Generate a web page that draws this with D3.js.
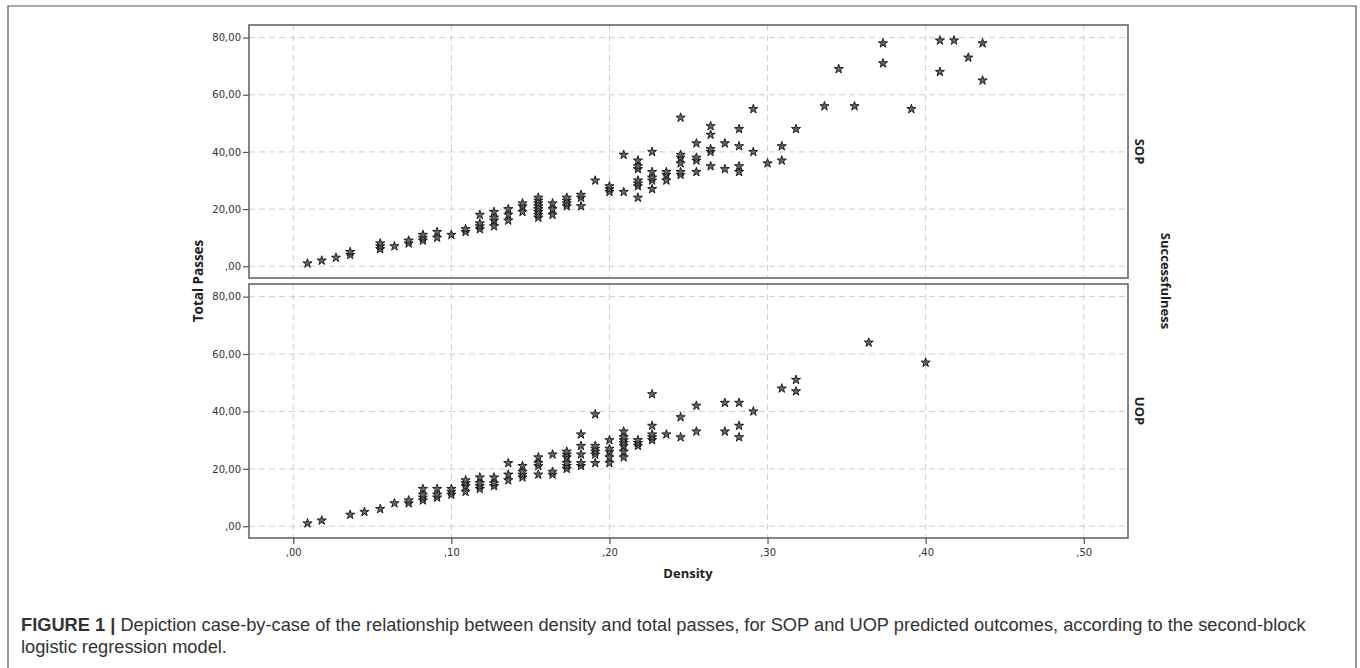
<!DOCTYPE html>
<html>
<head>
<meta charset="utf-8">
<script src="https://cdn.jsdelivr.net/npm/d3@7"></script>
<style>
  body { margin: 0; background: #fff; }
  svg { display: block; }
</style>
</head>
<body>
<div id="canvas"></div>
<script>
// density levels and total passes seen at each level, per predicted outcome
var sopDensity = [0.009, 0.018, 0.027, 0.036, 0.055, 0.064, 0.073, 0.082, 0.091, 0.100,
  0.109, 0.118, 0.127, 0.136, 0.145, 0.155, 0.164, 0.173, 0.182, 0.191,
  0.200, 0.209, 0.218, 0.227, 0.236, 0.245, 0.255, 0.264, 0.273, 0.282,
  0.291, 0.300, 0.309, 0.318, 0.336, 0.345, 0.355, 0.373, 0.391, 0.409,
  0.418, 0.427, 0.436];
var sopPasses = [[1], [2], [3], [4, 5], [6, 7, 8], [7], [8, 9], [9, 10, 11], [10, 12], [11],
  [12, 13], [13, 14, 15, 18], [14, 16, 17, 19], [16, 18, 20], [19, 21, 22],
  [17, 18, 19, 20, 21, 22, 23, 24], [18, 20, 22], [21, 22, 23, 24], [21, 24, 25], [30],
  [26, 27, 28], [26, 39], [24, 28, 29, 30, 34, 35, 37], [27, 30, 31, 33, 40], [30, 32, 33],
  [32, 33, 36, 38, 39, 52], [33, 37, 38, 43], [35, 40, 41, 46, 49], [34, 43], [33, 35, 42, 48],
  [40, 55], [36], [37, 42], [48], [56], [69], [56], [71, 78], [55], [68, 79],
  [79], [73], [65, 78]];

var uopDensity = [0.009, 0.018, 0.036, 0.045, 0.055, 0.064, 0.073, 0.082, 0.091, 0.100,
  0.109, 0.118, 0.127, 0.136, 0.145, 0.155, 0.164, 0.173, 0.182, 0.191,
  0.200, 0.209, 0.218, 0.227, 0.236, 0.245, 0.255, 0.273, 0.282, 0.291,
  0.309, 0.318, 0.364, 0.400];
var uopPasses = [[1], [2], [4], [5], [6], [8], [8, 9], [9, 10, 11, 13], [10, 11, 13], [11, 12, 13],
  [12, 14, 15, 16], [13, 14, 15, 17], [14, 15, 17], [16, 18, 22], [17, 18, 19, 21],
  [18, 21, 22, 24], [18, 19, 25], [20, 21, 22, 24, 25, 26], [21, 22, 25, 28, 32], [22, 25, 26, 27, 28, 39],
  [22, 24, 26, 27, 30], [24, 26, 28, 29, 30, 31, 33], [28, 29, 30], [30, 31, 32, 35, 46], [32],
  [31, 38], [33, 42], [33, 43], [31, 35, 43], [40],
  [48], [47, 51], [64], [57]];

var xTicks = [0, 0.1, 0.2, 0.3, 0.4, 0.5];
var yTicks = [0, 20, 40, 60, 80];
var panelNames = ["SOP", "UOP"];

var width = 1360, height = 668;
var svg = d3.select("#canvas").append("svg")
  .attr("width", width)
  .attr("height", height);

// outer figure frame
svg.append("path")
  .attr("d", "M8,700 L8,6 L1356,6 L1356,700")
  .attr("fill", "none")
  .attr("stroke", "#555")
  .attr("stroke-width", 1.2);

var x = d3.scaleLinear().domain([-0.028, 0.528]).range([249, 1128]);
var panels = [
  {name: panelNames[0], top: 25, bottom: 278, dens: sopDensity, passes: sopPasses},
  {name: panelNames[1], top: 284, bottom: 538, dens: uopDensity, passes: uopPasses}
];

var fmtY = (d) => d3.format(".2f")(d).replace(".", ",").replace(/^0,/, ",");
var fmtX = (d) => d3.format(".2f")(d).replace(/^0\./, ",");

var star = d3.symbol().type(d3.symbolStar).size(26);

panels.forEach((p, i) => {
  var y = d3.scaleLinear().domain([-4.1, 84.4]).range([p.bottom, p.top]);
  var g = svg.append("g");

  // grid
  g.selectAll(".vgrid").data(xTicks).enter().append("line")
    .attr("x1", (d) => x(d)).attr("x2", (d) => x(d))
    .attr("y1", p.top).attr("y2", p.bottom)
    .attr("stroke", "#cfcfcf").attr("stroke-dasharray", "6,4");
  g.selectAll(".hgrid").data(yTicks).enter().append("line")
    .attr("x1", x.range()[0]).attr("x2", x.range()[1])
    .attr("y1", (d) => y(d)).attr("y2", (d) => y(d))
    .attr("stroke", "#cfcfcf").attr("stroke-dasharray", "6,4");

  // left axis
  var leftAxis = d3.axisLeft(y).tickValues(yTicks).tickFormat(fmtY).tickSize(6).tickPadding(2);
  var ga = g.append("g")
    .attr("class", "left axis")
    .attr("transform", "translate(" + x.range()[0] + ",0)")
    .call(leftAxis);
  ga.select(".domain").remove();
  ga.selectAll("line").attr("stroke", "#555").attr("stroke-width", 1.2);
  ga.selectAll("text").attr("font-family", "DejaVu Sans").attr("font-size", "10px").attr("fill", "#333");

  // points
  var pts = [];
  p.dens.forEach((d, k) => {
    p.passes[k].forEach((v) => { pts.push({d: d, v: v}); });
  });
  g.selectAll(".pt").data(pts).enter().append("path")
    .attr("d", star)
    .attr("transform", (d) => "translate(" + x(d.d) + "," + y(d.v) + ")")
    .attr("fill", "#666")
    .attr("stroke", "#111")
    .attr("stroke-width", 0.9);

  // frame
  g.append("rect")
    .attr("x", x.range()[0]).attr("y", p.top)
    .attr("width", x.range()[1] - x.range()[0])
    .attr("height", p.bottom - p.top)
    .attr("fill", "none").attr("stroke", "#666").attr("stroke-width", 1.6);

  // panel label
  g.append("text")
    .attr("transform", "translate(1135," + (p.top + p.bottom) / 2 + ") rotate(90)")
    .attr("text-anchor", "middle")
    .attr("font-family", "Open Sans").attr("font-weight", "bold").attr("font-size", "13px")
    .attr("fill", "#222")
    .text(p.name);

  if (i == 1) {
    var bottomAxis = d3.axisBottom(x).tickValues(xTicks).tickFormat(fmtX).tickSize(6).tickPadding(5);
    var gb = g.append("g")
      .attr("class", "x axis")
      .attr("transform", "translate(0," + p.bottom + ")")
      .call(bottomAxis);
    gb.select(".domain").remove();
    gb.selectAll("line").attr("stroke", "#555").attr("stroke-width", 1.2);
    gb.selectAll("text").attr("font-family", "DejaVu Sans").attr("font-size", "10px").attr("fill", "#333");
  }
});

// axis titles
svg.append("text")
  .attr("x", 688).attr("y", 578)
  .attr("text-anchor", "middle")
  .attr("font-family", "Open Sans").attr("font-weight", "bold").attr("font-size", "13px")
  .attr("fill", "#222")
  .text("Density");

svg.append("text")
  .attr("transform", "translate(203,281) rotate(-90)")
  .attr("text-anchor", "middle")
  .attr("font-family", "Open Sans").attr("font-weight", "bold").attr("font-size", "13.5px")
  .attr("fill", "#222")
  .text("Total Passes");

svg.append("text")
  .attr("transform", "translate(1161,281) rotate(90)")
  .attr("text-anchor", "middle")
  .attr("font-family", "Open Sans").attr("font-weight", "bold").attr("font-size", "13px")
  .attr("fill", "#222")
  .text("Successfulness");

// caption
var cap = svg.append("text")
  .attr("x", 21).attr("y", 631)
  .attr("font-family", "Liberation Sans").attr("font-size", "18.25px")
  .attr("fill", "#333");
cap.append("tspan").attr("font-weight", "bold").text("FIGURE 1 | ");
cap.append("tspan").text("Depiction case-by-case of the relationship between density and total passes, for SOP and UOP predicted outcomes, according to the second-block");

svg.append("text")
  .attr("x", 21).attr("y", 653)
  .attr("font-family", "Liberation Sans").attr("font-size", "18.25px")
  .attr("fill", "#333")
  .text("logistic regression model.");
</script>
</body>
</html>
